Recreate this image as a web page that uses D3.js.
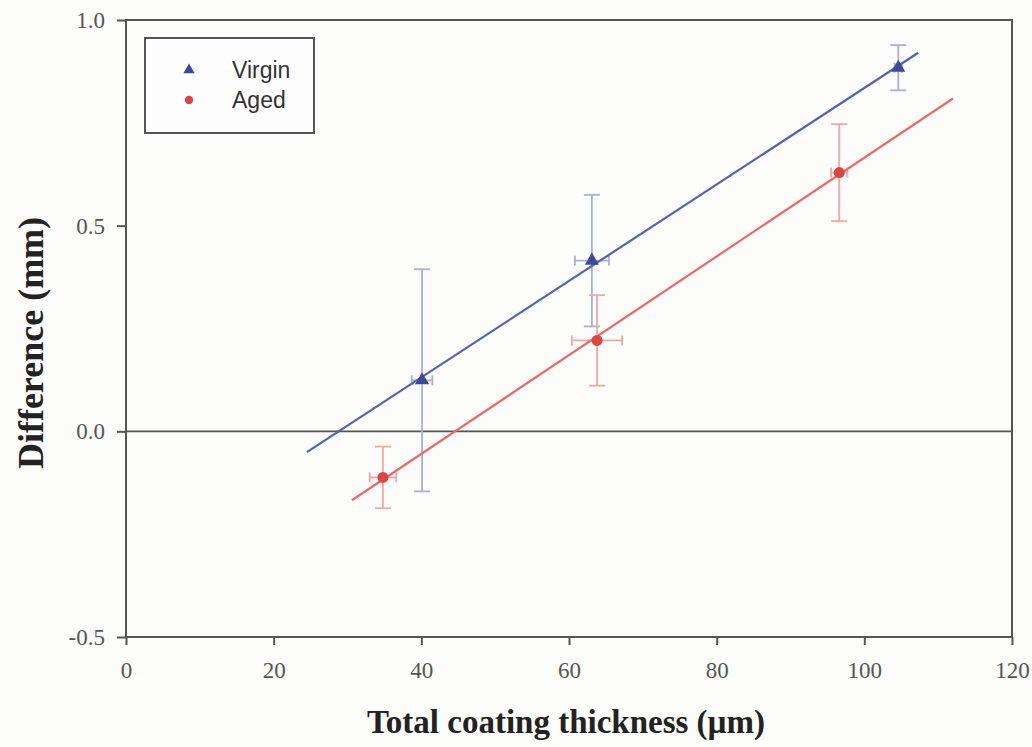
<!DOCTYPE html>
<html>
<head>
<meta charset="utf-8">
<script src="https://cdn.jsdelivr.net/npm/d3@7"></script>
<style>
  body { margin: 0; background: #fcfcfa; }
  svg { display: block; }
</style>
</head>
<body>
<script>
// values
var virginX    = [40.1, 63.1, 104.6];
var virginY    = [0.124, 0.415, 0.884];
var virginYErr = [0.27, 0.16, 0.055];
var virginXErr = [1.4, 2.3, 0.5];
var virginFitRange = [24.5, 107.3];

var agedX    = [34.8, 63.8, 96.6];
var agedY    = [-0.112, 0.221, 0.629];
var agedYErr = [0.075, 0.11, 0.118];
var agedXErr = [1.8, 3.4, 1.1];
var agedFitRange = [30.6, 112.0];

var xTicks = [0, 20, 40, 60, 80, 100, 120];
var yTicks = [-0.5, 0.0, 0.5, 1.0];
var legendLabels = ["Virgin", "Aged"];

var width = 1032, height = 747;
var margin = { left: 126, top: 20, right: 20, bottom: 110 };
var innerWidth  = width - margin.left - margin.right;
var innerHeight = height - margin.top - margin.bottom;

var svg = d3.select("body").append("svg")
  .attr("width", width)
  .attr("height", height);

var g = svg.append("g")
  .attr("transform", "translate(" + margin.left + "," + margin.top + ")");

var xScale = d3.scaleLinear().domain([0, 120]).range([0, innerWidth]);
var yScale = d3.scaleLinear().domain([-0.5, 1.0]).range([innerHeight, 0]);

// frame
g.append("rect")
  .attr("width", innerWidth).attr("height", innerHeight)
  .attr("fill", "none").attr("stroke", "#555").attr("stroke-width", 2);

// zero line
g.append("line")
  .attr("x1", 0).attr("x2", innerWidth)
  .attr("y1", yScale(0)).attr("y2", yScale(0))
  .attr("stroke", "#555").attr("stroke-width", 1.8);

var xAxis = g.append("g")
  .attr("transform", "translate(0," + innerHeight + ")")
  .call(d3.axisBottom(xScale).tickValues(xTicks).tickSize(8).tickPadding(17).tickFormat(d3.format("d")));

var yAxis = g.append("g")
  .call(d3.axisLeft(yScale).tickValues(yTicks).tickSize(9).tickPadding(12)
    .tickFormat(function (d){ return d.toFixed(1); }));

[xAxis, yAxis].forEach(function (ax){
  ax.select(".domain").remove();
  ax.selectAll("line").attr("stroke", "#555").attr("stroke-width", 2);
  ax.selectAll("text")
    .attr("fill", "#555")
    .style("font-family", "'Liberation Serif', 'DejaVu Serif', serif")
    .style("font-size", "23px");
});

// axis titles
svg.append("text")
  .attr("x", 566)
  .attr("y", 733)
  .attr("text-anchor", "middle")
  .style("font-family", "'Liberation Serif', serif")
  .style("font-weight", "bold")
  .style("font-size", "33px")
  .attr("fill", "#222")
  .text("Total coating thickness (\u00b5m)");

svg.append("text")
  .attr("transform", "translate(43,343) rotate(-90)")
  .attr("text-anchor", "middle")
  .style("font-family", "'Liberation Serif', serif")
  .style("font-weight", "bold")
  .style("font-size", "36px")
  .attr("fill", "#222")
  .text("Difference (mm)");

function zip(xs, ys, xe, ye){
  return xs.map(function (x, i){ return { x: x, y: ys[i], xe: xe[i], ye: ye[i] }; });
}

// least squares fit
function fit(xs, ys){
  var mx = d3.mean(xs), my = d3.mean(ys);
  var sxy = d3.sum(xs, function (x, i){ return (x - mx) * (ys[i] - my); });
  var sxx = d3.sum(xs, function (x){ return (x - mx) * (x - mx); });
  var slope = sxy / sxx;
  return { slope: slope, intercept: my - slope * mx };
}

var series = [
  { name: legendLabels[0], data: zip(virginX, virginY, virginXErr, virginYErr), fit: fit(virginX, virginY),
    range: virginFitRange, line: "#5563ad", err: "#a9afd6", mark: "#3b4996", shape: d3.symbolTriangle, size: 85 },
  { name: legendLabels[1], data: zip(agedX, agedY, agedXErr, agedYErr), fit: fit(agedX, agedY),
    range: agedFitRange, line: "#e96a68", err: "#f2a7a5", mark: "#d94646", shape: d3.symbolCircle, size: 95 }
];

series.forEach(function (s){
  var sg = g.append("g");
  var capY = 8, capX = 5;

  // error bars
  s.data.forEach(function (d){
    var e = sg.append("g").attr("stroke", s.err).attr("stroke-width", 1.8).attr("fill", "none");
    e.append("line")
      .attr("x1", xScale(d.x)).attr("x2", xScale(d.x))
      .attr("y1", yScale(d.y - d.ye)).attr("y2", yScale(d.y + d.ye));
    [d.y - d.ye, d.y + d.ye].forEach(function (v){
      e.append("line")
        .attr("x1", xScale(d.x) - capY).attr("x2", xScale(d.x) + capY)
        .attr("y1", yScale(v)).attr("y2", yScale(v));
    });
    e.append("line")
      .attr("x1", xScale(d.x - d.xe)).attr("x2", xScale(d.x + d.xe))
      .attr("y1", yScale(d.y)).attr("y2", yScale(d.y));
    [d.x - d.xe, d.x + d.xe].forEach(function (v){
      e.append("line")
        .attr("x1", xScale(v)).attr("x2", xScale(v))
        .attr("y1", yScale(d.y) - capX).attr("y2", yScale(d.y) + capX);
    });
  });

  // regression line
  sg.append("line")
    .attr("x1", xScale(s.range[0])).attr("y1", yScale(s.fit.intercept + s.fit.slope * s.range[0]))
    .attr("x2", xScale(s.range[1])).attr("y2", yScale(s.fit.intercept + s.fit.slope * s.range[1]))
    .attr("stroke", s.line).attr("stroke-width", 2.2);

  // markers
  sg.selectAll("path.mark").data(s.data).enter()
    .append("path")
    .attr("class", "mark")
    .attr("transform", function (d){ return "translate(" + xScale(d.x) + "," + yScale(d.y) + ")"; })
    .attr("d", d3.symbol().type(s.shape).size(s.size))
    .attr("fill", s.mark);
});

// legend
var lg = svg.append("g").attr("transform", "translate(145,38)");
lg.append("rect")
  .attr("width", 169).attr("height", 95)
  .attr("fill", "#fdfdfd").attr("stroke", "#555").attr("stroke-width", 2);

series.forEach(function (s, i){
  var row = lg.append("g").attr("transform", "translate(0," + (32 + i * 30) + ")");
  row.append("path")
    .attr("transform", "translate(44,0)")
    .attr("d", d3.symbol().type(s.shape).size(55))
    .attr("fill", s.mark);
  row.append("text")
    .attr("x", 87).attr("y", 8)
    .style("font-family", "'Liberation Sans', Arial, sans-serif")
    .style("font-size", "23px")
    .attr("fill", "#333")
    .text(s.name);
});
</script>
</body>
</html>
